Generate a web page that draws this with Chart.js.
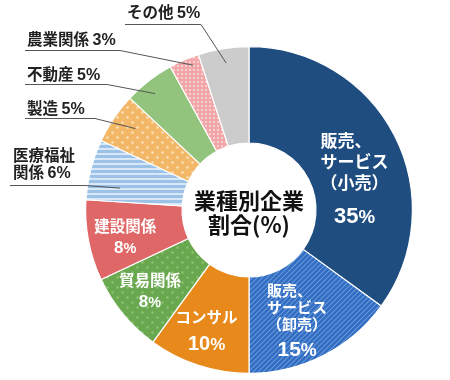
<!DOCTYPE html>
<html>
<head>
<meta charset="utf-8">
<script src="https://cdn.jsdelivr.net/npm/chart.js@4.4.0/dist/chart.umd.min.js"></script>
<style>
  html, body { margin: 0; background: #fff; }
</style>
</head>
<body>
<canvas id="shareChart" width="450" height="380"></canvas>
<script>
// Data (line breaks as in the labels)
const categories = [
    '販売、\nサービス\n（小売）', '販売、\nサービス\n（卸売）', 'コンサル', '貿易関係', '建設関係',
    '医療福祉\n関係', '製造', '不動産', '農業関係', 'その他'
];
const shares = [35, 15, 10, 8, 8, 6, 5, 5, 3, 5];
const centerTitle = ['業種別企業', '割合(%)'];

const JP = '"Noto Sans CJK JP", sans-serif';
const NUM = '"Liberation Sans", Arial, sans-serif';

const canvas = document.getElementById('shareChart');
const ctx = canvas.getContext('2d');

// Build a repeating fill pattern from a small tile
function makePattern(w, h, bg, draw) {
    const tile = document.createElement('canvas');
    tile.width = w;
    tile.height = h;
    const g = tile.getContext('2d');
    g.fillStyle = bg;
    g.fillRect(0, 0, w, h);
    draw(g);
    return ctx.createPattern(tile, 'repeat');
}

function dots(color, r, pts) {
    return g => {
        g.fillStyle = color;
        pts.forEach(p => { g.beginPath(); g.arc(p[0], p[1], r, 0, Math.PI * 2); g.fill(); });
    };
}

const diagBlue = makePattern(5, 5, '#2f6cc2', g => {
    g.strokeStyle = '#6b9ad9';
    g.lineWidth = 1.1;
    [[-1, 6, 6, -1], [-6, 6, 1, -1], [4, 6, 11, -1]].forEach(l => {
        g.beginPath(); g.moveTo(l[0], l[1]); g.lineTo(l[2], l[3]); g.stroke();
    });
});
const stripeBlue = makePattern(4, 5, '#9cc2e8', g => {
    g.fillStyle = '#d9e8f7';
    g.fillRect(0, 3, 4, 2);
});
const dotGreen = makePattern(10, 10, '#6aa84f', dots('#8fc375', 1.2, [[2.5, 2.5], [7.5, 7.5]]));
const dotOrange = makePattern(10, 10, '#f2b867', dots('#fbe3c2', 1.2, [[2.5, 2.5], [7.5, 7.5]]));
const dotPink = makePattern(4, 4, '#f2a5a6', dots('#fde6e6', 0.9, [[2, 2]]));

const sliceColors = [
    '#1f4d80', diagBlue, '#e8891b', dotGreen, '#e06767',
    stripeBlue, dotOrange, '#93c47d', dotPink, '#cccccc'
];

// Labels inside the slices: position given as fraction of angle / radius
const innerLabels = [
    { idx: 0, frac: 0.58, r: 0.675, size: 17, lead: 21, numSize: 22, numGap: 32 },
    { idx: 1, frac: 0.56, r: 0.73, size: 15, lead: 17, numSize: 21, numGap: 24 },
    { idx: 2, frac: 0.54, r: 0.78, size: 15.5, lead: 17, numSize: 20, numGap: 26 },
    { idx: 3, frac: 0.52, r: 0.78, size: 15.5, lead: 17, numSize: 17, numGap: 21 },
    { idx: 4, frac: 0.45, r: 0.775, size: 15.5, lead: 17, numSize: 17, numGap: 21 }
];

// Labels outside with leader lines
const outerLabels = [
    { idx: 9, tx: 127, ty: 12, lineY: 24, x0: 125, x1: 201, frac: 0.51, r: 0.91 },
    { idx: 8, tx: 27, ty: 39, lineY: 50, x0: 25, x1: 120, frac: 0.71, r: 0.95 },
    { idx: 7, tx: 27, ty: 74, lineY: 84, x0: 25, x1: 107, frac: 0.44, r: 0.915 },
    { idx: 6, tx: 27, ty: 108, lineY: 118, x0: 25, x1: 95, frac: 0.58, r: 0.855 },
    { idx: 5, tx: 13, ty: 155, lineY: 185, x0: 10, x1: 85, frac: 0.28, r: 0.80, lead: 17 }
];

function pointAt(arc, frac, rFrac) {
    const a = arc.startAngle + (arc.endAngle - arc.startAngle) * frac;
    const r = arc.outerRadius * rFrac;
    return [arc.x + Math.cos(a) * r, arc.y + Math.sin(a) * r];
}

// number like "35%" with a slightly smaller percent sign
function numWidth(c, value, size, pctScale) {
    c.font = 'bold ' + size + 'px ' + NUM;
    const w1 = c.measureText(String(value)).width;
    c.font = 'bold ' + (size * pctScale) + 'px ' + NUM;
    return w1 + c.measureText('%').width;
}
function drawNum(c, value, size, pctScale, x, y) {
    c.textAlign = 'left';
    c.textBaseline = 'alphabetic';
    const base = y + size * 0.36;
    c.font = 'bold ' + size + 'px ' + NUM;
    c.fillText(String(value), x, base);
    const w1 = c.measureText(String(value)).width;
    c.font = 'bold ' + (size * pctScale) + 'px ' + NUM;
    c.fillText('%', x + w1, base);
}

const labelPlugin = {
    id: 'sliceLabels',
    afterDatasetsDraw(chart) {
        const c = chart.ctx;
        const arcs = chart.getDatasetMeta(0).data;
        c.save();

        // inner labels
        c.fillStyle = '#fff';
        innerLabels.forEach(l => {
            const arc = arcs[l.idx];
            const [cx, cy] = pointAt(arc, l.frac, l.r);
            const lines = categories[l.idx].split('\n');
            const total = l.lead * lines.length + l.numGap;
            let y = cy - total / 2 + l.lead / 2;
            c.font = 'bold ' + l.size + 'px ' + JP;
            const widest = Math.max(...lines.map(t => c.measureText(t).width));
            lines.forEach((t, i) => {
                c.font = 'bold ' + l.size + 'px ' + JP;
                c.textBaseline = 'middle';
                if (lines.length > 1 && i === 0) {
                    c.textAlign = 'left';
                    c.fillText(t, cx - widest / 2, y);
                } else {
                    c.textAlign = 'center';
                    c.fillText(t, cx, y);
                }
                y += l.lead;
            });
            y += l.numGap - l.lead;
            const w = numWidth(c, shares[l.idx], l.numSize, 0.85);
            drawNum(c, shares[l.idx], l.numSize, 0.85, cx - w / 2, y);
        });

        // outer labels with leader lines
        outerLabels.forEach(l => {
            const arc = arcs[l.idx];
            const [ex, ey] = pointAt(arc, l.frac, l.r);
            c.strokeStyle = '#555';
            c.lineWidth = 1;
            c.beginPath();
            c.moveTo(l.x0, l.lineY + 0.5);
            c.lineTo(l.x1, l.lineY + 0.5);
            c.lineTo(ex, ey);
            c.stroke();

            c.fillStyle = '#222';
            const lines = categories[l.idx].split('\n');
            let y = l.ty;
            lines.forEach((t, i) => {
                c.font = 'bold 15.5px ' + JP;
                c.textAlign = 'left';
                c.textBaseline = 'middle';
                c.fillText(t, l.tx, y);
                if (i === lines.length - 1) {
                    const w = c.measureText(t + ' ').width;
                    drawNum(c, shares[l.idx], 16, 1, l.tx + w, y);
                }
                y += l.lead || 0;
            });
        });

        // title in the hole
        const a0 = arcs[0];
        c.fillStyle = '#111';
        c.font = 'bold 22px ' + JP;
        c.textAlign = 'center';
        c.textBaseline = 'middle';
        c.fillText(centerTitle[0], a0.x, a0.y - 9);
        c.fillText(centerTitle[1], a0.x, a0.y + 15);
        c.restore();
    }
};

new Chart(ctx, {
    type: 'doughnut',
    data: {
        labels: categories,
        datasets: [{
            data: shares,
            backgroundColor: sliceColors,
            borderColor: '#fff',
            borderWidth: 1.2
        }]
    },
    options: {
        responsive: false,
        animation: false,
        cutout: '41%',
        layout: { padding: { left: 85, right: 37, top: 46, bottom: 6 } },
        plugins: {
            legend: { display: false },
            tooltip: { enabled: false }
        }
    },
    plugins: [labelPlugin]
});
</script>
</body>
</html>
